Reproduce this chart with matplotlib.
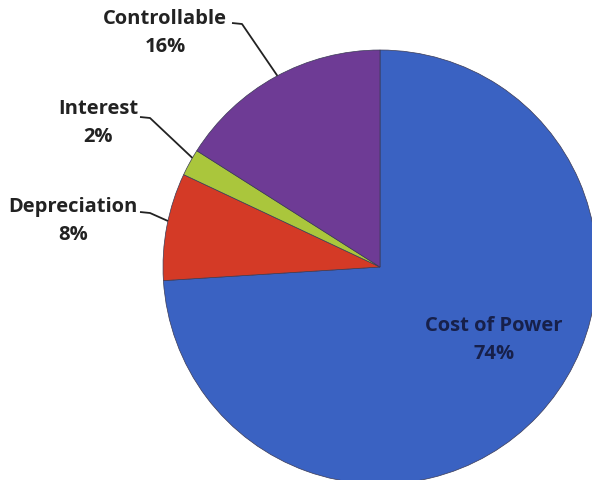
import numpy as np
import matplotlib.pyplot as plt

categories = ["Cost of Power", "Depreciation", "Interest", "Controllable"]
shares = [74, 8, 2, 16]
colors = ["#3a62c2", "#d43a26", "#aac63c", "#6e3b95"]

W, H = 592, 481
CX, CY, R = 380, 481 - 268, 217

fig = plt.figure(figsize=(W / 100, H / 100), dpi=100)
ax = fig.add_axes([0, 0, 1, 1])

wedges, _ = ax.pie(shares, colors=colors, startangle=90, counterclock=False,
                   center=(CX, CY), radius=R, frame=True,
                   wedgeprops=dict(linewidth=0.5, edgecolor="#3a3a55"))
ax.set_xlim(0, W)
ax.set_ylim(0, H)
ax.set_aspect("equal")
ax.axis("off")

font = dict(family=["Open Sans", "DejaVu Sans"], fontweight="bold", fontsize=14.5)

# outside labels: (text centre x, text top y, leader start x, elbow x, leader y, position along wedge)
outside = {
    "Controllable": (165, 9, 232, 242, 24, 0.49),
    "Interest": (98, 99, 140, 150, 118, 0.31),
    "Depreciation": (73, 197, 140, 150, 213, 0.45),
}

for name, (tx, ty, lx, ex, ly, frac) in outside.items():
    i = categories.index(name)
    w = wedges[i]
    ang = np.deg2rad(w.theta1 + frac * (w.theta2 - w.theta1))
    px, py = CX + R * np.cos(ang), CY + R * np.sin(ang)
    ax.text(tx, H - ty, f"{name}\n{shares[i]}%", ha="center", va="top",
            color="#222222", linespacing=1.55, **font)
    ax.plot([lx, ex, px], [H - ly, H - ly - 1, py], color="#222222", lw=1.3,
            solid_capstyle="butt")

i = categories.index("Cost of Power")
ax.text(494, H - 316, f"{categories[i]}\n{shares[i]}%", ha="center", va="top",
        color="#17204a", linespacing=1.55, **font)

fig.savefig("out.png", dpi=100)
